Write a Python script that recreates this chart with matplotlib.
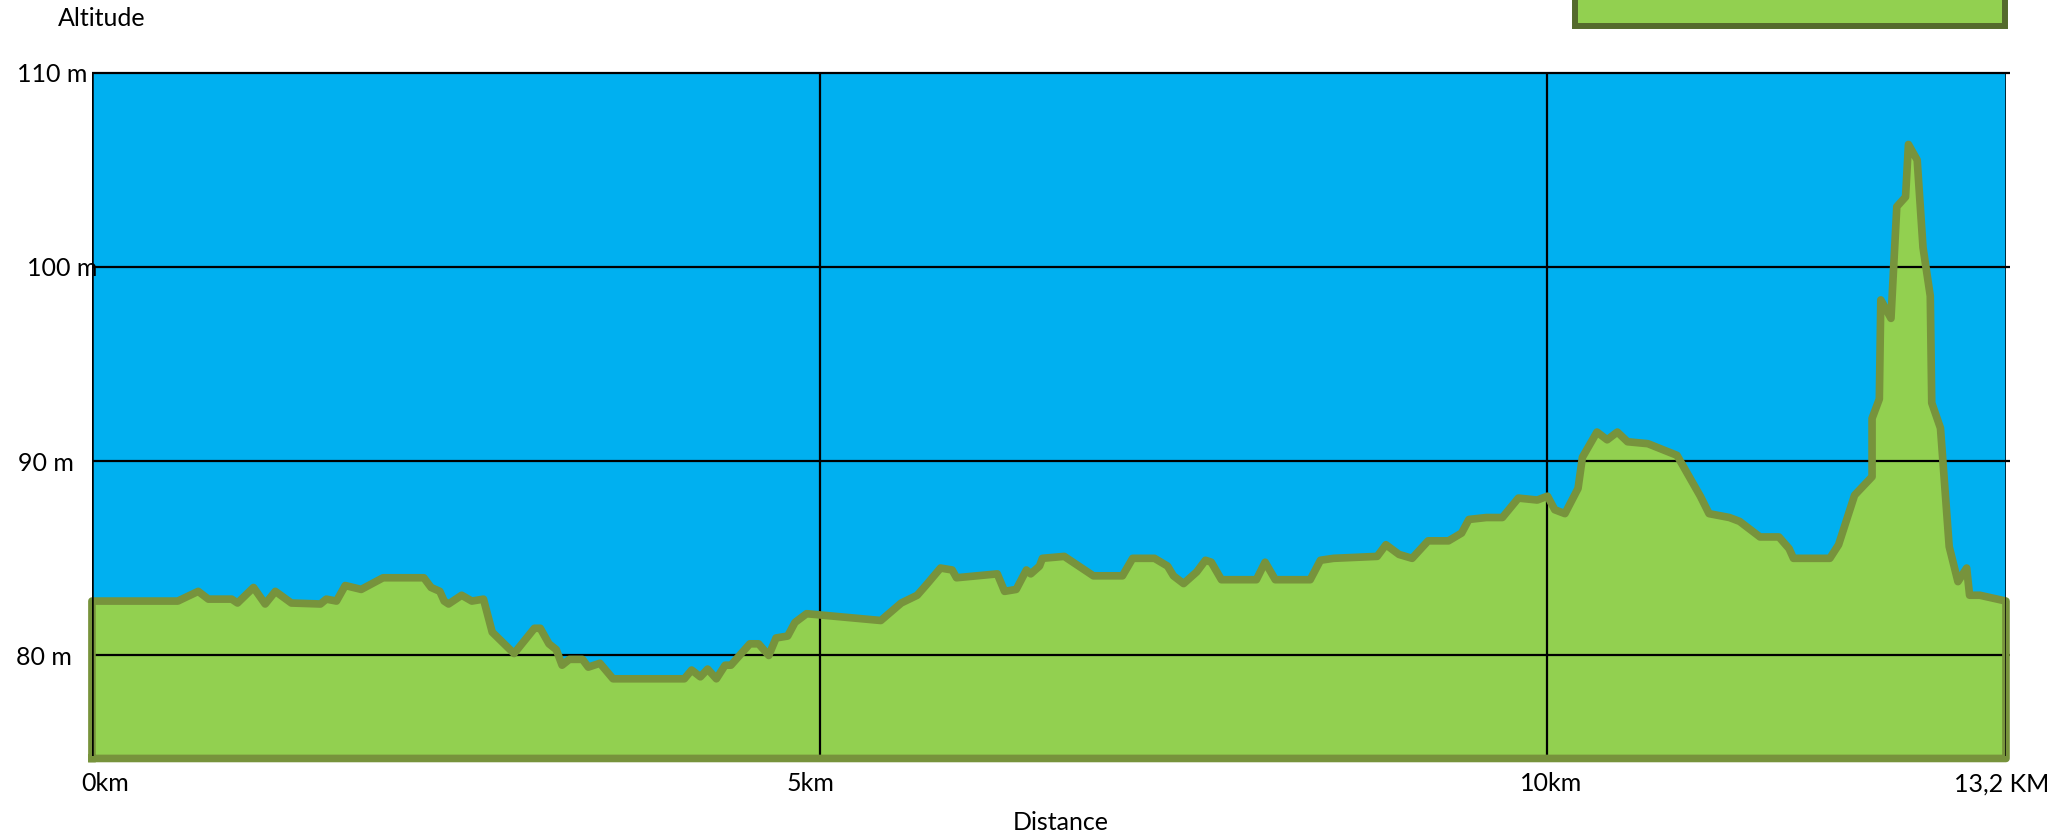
import matplotlib
matplotlib.use("Agg")
import matplotlib.pyplot as plt
from matplotlib.patches import Rectangle
from matplotlib.transforms import ScaledTranslation

plt.rcParams['font.family'] = ['Lato', 'DejaVu Sans']

# Elevation profile (km, m)
dist = [0.0, 0.59, 0.73, 0.80, 0.96, 1.00, 1.11, 1.19, 1.26, 1.37, 1.57, 1.61, 1.68,
        1.74, 1.85, 2.00, 2.28, 2.33, 2.39, 2.42, 2.45, 2.54, 2.61, 2.69, 2.75, 2.90,
        3.04, 3.08, 3.14, 3.19, 3.23, 3.28, 3.37, 3.41, 3.49, 3.58, 4.07, 4.12, 4.18,
        4.23, 4.29, 4.35, 4.39, 4.52, 4.58, 4.65, 4.70, 4.78, 4.83, 4.91, 5.42, 5.56,
        5.67, 5.74, 5.83, 5.91, 5.94, 6.22, 6.27, 6.35, 6.42, 6.45, 6.51, 6.53, 6.68,
        6.88, 7.08, 7.15, 7.30, 7.39, 7.43, 7.50, 7.59, 7.65, 7.69, 7.76, 8.00, 8.06,
        8.13, 8.37, 8.44, 8.53, 8.83, 8.89, 8.98, 9.07, 9.18, 9.32, 9.41, 9.46, 9.58,
        9.69, 9.80, 9.93, 10.00, 10.05, 10.12, 10.21, 10.24, 10.34, 10.41, 10.48,
        10.55, 10.69, 10.89, 11.05, 11.11, 11.25, 11.32, 11.46, 11.59, 11.66, 11.69,
        11.94, 12.00, 12.11, 12.23, 12.23, 12.28, 12.29, 12.36, 12.40, 12.46, 12.48,
        12.54, 12.58, 12.63, 12.64, 12.70, 12.76, 12.82, 12.88, 12.90, 12.97, 13.15]
alt = [82.8, 82.8, 83.3, 82.9, 82.9, 82.7, 83.5, 82.65, 83.3, 82.7, 82.65, 82.9, 82.8,
       83.6, 83.4, 84.0, 84.0, 83.5, 83.3, 82.8, 82.65, 83.1, 82.8, 82.9, 81.2, 80.1,
       81.4, 81.4, 80.6, 80.3, 79.5, 79.8, 79.8, 79.4, 79.6, 78.8, 78.8, 79.25, 78.9,
       79.3, 78.8, 79.5, 79.5, 80.6, 80.6, 80.0, 80.9, 81.0, 81.7, 82.15, 81.8, 82.7,
       83.1, 83.7, 84.5, 84.4, 84.0, 84.2, 83.3, 83.4, 84.4, 84.2, 84.6, 85.0, 85.1,
       84.1, 84.1, 85.0, 85.0, 84.6, 84.1, 83.7, 84.3, 84.9, 84.8, 83.9, 83.9, 84.8,
       83.9, 83.9, 84.9, 85.0, 85.1, 85.7, 85.2, 85.0, 85.9, 85.9, 86.3, 87.0, 87.1,
       87.1, 88.1, 88.0, 88.2, 87.5, 87.3, 88.6, 90.2, 91.5, 91.1, 91.5,
       91.0, 90.9, 90.3, 88.2, 87.3, 87.1, 86.9, 86.1, 86.1, 85.5, 85.0,
       85.0, 85.7, 88.25, 89.2, 92.2, 93.2, 98.3, 97.35, 103.1, 103.6, 106.3,
       105.5, 101.0, 98.5, 93.0, 91.7, 85.6, 83.8, 84.5, 83.1, 83.1, 82.8]

x_max = 13.15
y_min, y_max = 74.85, 110
base = 74.7

y_ticks = [80, 90, 100, 110]
y_labels = ['80 m', '90 m', '100 m', '110 m']
x_ticks = [0, 5, 10, x_max]
x_labels = ['0km', '5km', '10km', '13,2 KM']

fig = plt.figure(figsize=(20.71, 8.38), dpi=100)
ax = fig.add_axes([0.0444, 0.0984, 0.9242, 0.815])
ax.set_facecolor('#00B0F0')

xs = [dist[0]] + dist + [dist[-1]]
ys = [base] + alt + [base]

# terrain fill, grid on top, then the thick outline
ax.fill(xs, ys, facecolor='#92D050', edgecolor='none', zorder=1, clip_on=False)
ax.hlines(y_ticks, 0, x_max + 0.03, color='black', lw=1.6, zorder=2, clip_on=False)
ax.vlines([5, 10], y_min, y_max, color='black', lw=1.6, zorder=2)
ax.plot(xs + [xs[0]], ys + [ys[0]], color='#77933C', lw=5.5,
        solid_joinstyle='round', zorder=3, clip_on=False)
ax.vlines([0, x_max], y_min, y_max, color='black', lw=1.8, zorder=4)

ax.set_xlim(0, x_max)
ax.set_ylim(y_min, y_max)
for s in ax.spines.values():
    s.set_visible(False)

ax.set_yticks(y_ticks, labels=y_labels)
ax.set_xticks(x_ticks, labels=x_labels)
ax.tick_params(axis='both', length=0, labelsize=18)
ax.tick_params(axis='y', pad=8)
ax.tick_params(axis='x', pad=12)

# nudge labels a little, as they sit in the original
y_shift = [-9, -7, 17, 7]
x_shift = [13, -9, 4, -4]
for lab, dx in zip(ax.get_yticklabels(), y_shift):
    lab.set_transform(lab.get_transform() + ScaledTranslation(dx / 100, 0, fig.dpi_scale_trans))
for lab, dx in zip(ax.get_xticklabels(), x_shift):
    lab.set_transform(lab.get_transform() + ScaledTranslation(dx / 100, 0, fig.dpi_scale_trans))

fig.text(0.049, 0.978, 'Altitude', fontsize=18, ha='center', va='center')
fig.text(0.512, 0.018, 'Distance', fontsize=18, ha='center', va='center')

# legend box cut off at the top of the picture
fig.add_artist(Rectangle((1574.7 / 2071, 0.969), (2005 - 1574.7) / 2071, 0.06,
                         transform=fig.transFigure, facecolor='#92D050',
                         edgecolor='#546A2C', lw=4.3, clip_on=False))

fig.savefig('out.png', dpi=100)
